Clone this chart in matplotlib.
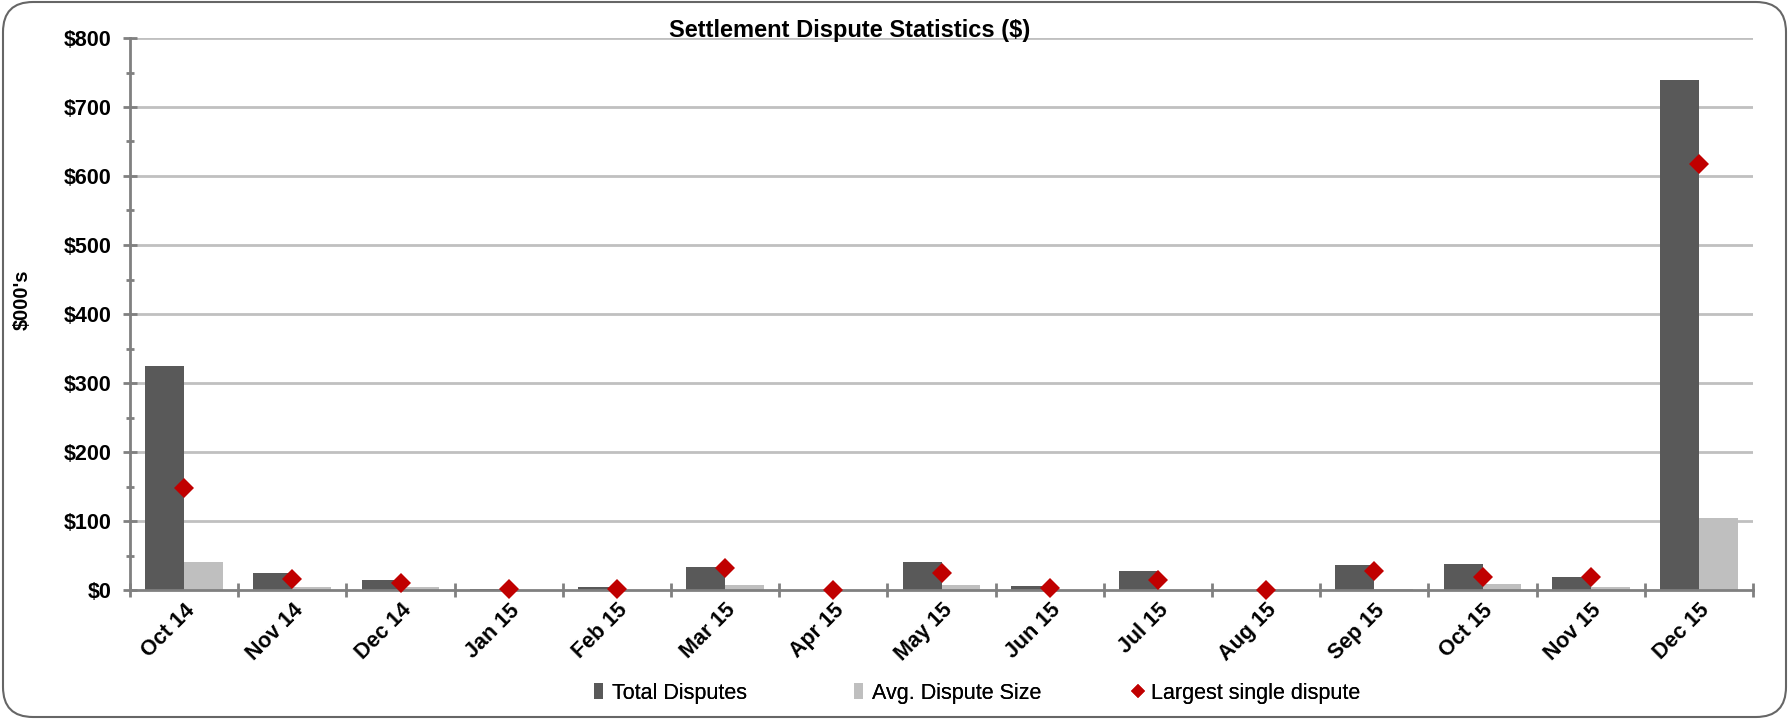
import numpy as np
import matplotlib
matplotlib.use("Agg")
import matplotlib.pyplot as plt
from matplotlib.patches import FancyBboxPatch, Patch
from matplotlib.lines import Line2D

# Monthly settlement dispute figures, in $000's
months = ["Oct 14", "Nov 14", "Dec 14", "Jan 15", "Feb 15", "Mar 15", "Apr 15",
          "May 15", "Jun 15", "Jul 15", "Aug 15", "Sep 15", "Oct 15", "Nov 15", "Dec 15"]
total_disputes = [325, 25, 15, 1, 5, 33, 0, 41, 6, 28, 0, 36, 38, 19, 739]
avg_dispute_size = [40, 4, 4, 0, 0.5, 7, 0, 7, 0.5, 0.7, 0, 2, 8, 5, 104]
largest_dispute = [148, 15.5, 10.5, 1, 1.5, 31.5, 0.5, 25, 2.5, 14, 0, 27, 19.5, 19.5, 617]
y_ticks = [0, 100, 200, 300, 400, 500, 600, 700, 800]
legend_labels = ["Total Disputes", "Avg. Dispute Size", "Largest single dispute"]

DARK = "#595959"
LIGHT = "#bfbfbf"
RED = "#c00000"
AXIS = "#808080"
GRID = "#c0c0c0"

plt.rcParams["font.family"] = ["Liberation Sans", "DejaVu Sans"]

W, H, DPI = 1789, 719, 100
fig = plt.figure(figsize=(W / DPI, H / DPI), dpi=DPI)

# Rounded outer frame
frame = FancyBboxPatch((3 / DPI, 2 / DPI), (W - 6) / DPI, (H - 4) / DPI,
                       boxstyle="round,pad=0,rounding_size=0.3",
                       transform=fig.dpi_scale_trans, facecolor="none",
                       edgecolor="#666666", linewidth=1.5, zorder=-1)
fig.patches.append(frame)

left, right = 130 / W, 1753 / W
bottom, top = 1 - 590 / H, 1 - 38 / H
ax = fig.add_axes([left, bottom, right - left, top - bottom])
ax.set_facecolor("none")

x = np.arange(len(months))
bw = 0.36
ax.bar(x - bw / 2, total_disputes, width=bw, color=DARK, zorder=3)
ax.bar(x + bw / 2, avg_dispute_size, width=bw, color=LIGHT, zorder=3)
ax.plot(x, largest_dispute, linestyle="none", marker="D", markersize=10.5,
        color=RED, markeredgewidth=0, zorder=4, clip_on=False)

ax.set_xlim(-0.5, len(months) - 0.5)
ax.set_ylim(0, 800)

# Gridlines
for v in y_ticks[1:]:
    ax.axhline(v, color=GRID, linewidth=2, zorder=1)

for s in ["top", "right"]:
    ax.spines[s].set_visible(False)
for s in ["left", "bottom"]:
    ax.spines[s].set_color(AXIS)
    ax.spines[s].set_linewidth(2)
    ax.spines[s].set_zorder(3.5)

ax.set_yticks(y_ticks)
ax.set_yticklabels([f"${v}" for v in y_ticks])
ax.set_yticks(np.arange(50, 800, 100), minor=True)
ax.tick_params(axis="y", which="major", direction="inout", length=9.5, width=2,
               color=AXIS, pad=8.5, labelsize=15.5)
ax.tick_params(axis="y", which="minor", direction="inout", length=6, width=2, color=AXIS)
for lbl in ax.get_yticklabels():
    lbl.set_fontweight("bold")

ax.set_xticks(x)
ax.set_xticklabels(months, rotation=45, ha="right", va="top", rotation_mode="anchor",
                   fontweight="bold", fontsize=15.5)
ax.set_xticks(np.arange(-0.5, len(months)), minor=True)
ax.tick_params(axis="x", which="major", length=0, pad=7)
ax.tick_params(axis="x", which="minor", direction="inout", length=10, width=2, color=AXIS)

fig.text(22 / W, 1 - 300 / H, "$000's", rotation=90, ha="center", va="center",
         fontsize=14.5, fontweight="bold")

fig.text(850 / W, 1 - 37 / H, "Settlement Dispute Statistics ($)", ha="center",
         va="baseline", fontsize=17, fontweight="bold", zorder=6)

# Legend: three separate entries placed along the bottom
handles = [
    Patch(facecolor=DARK, edgecolor="none"),
    Patch(facecolor=LIGHT, edgecolor="none"),
    Line2D([], [], linestyle="none", marker="D", markersize=7, color=RED, markeredgewidth=0),
]
entry_x = [594, 854, 1133]
for h, lab, ex in zip(handles, legend_labels, entry_x):
    lg = fig.legend([h], [lab], loc="center left", bbox_to_anchor=(ex / W, 1 - 693 / H),
                    frameon=False, handlelength=0.42, handleheight=0.75,
                    handletextpad=0.4, borderpad=0, borderaxespad=0,
                    prop={"size": 15.5})
    fig.add_artist(lg)

fig.savefig("out.png", dpi=DPI)
